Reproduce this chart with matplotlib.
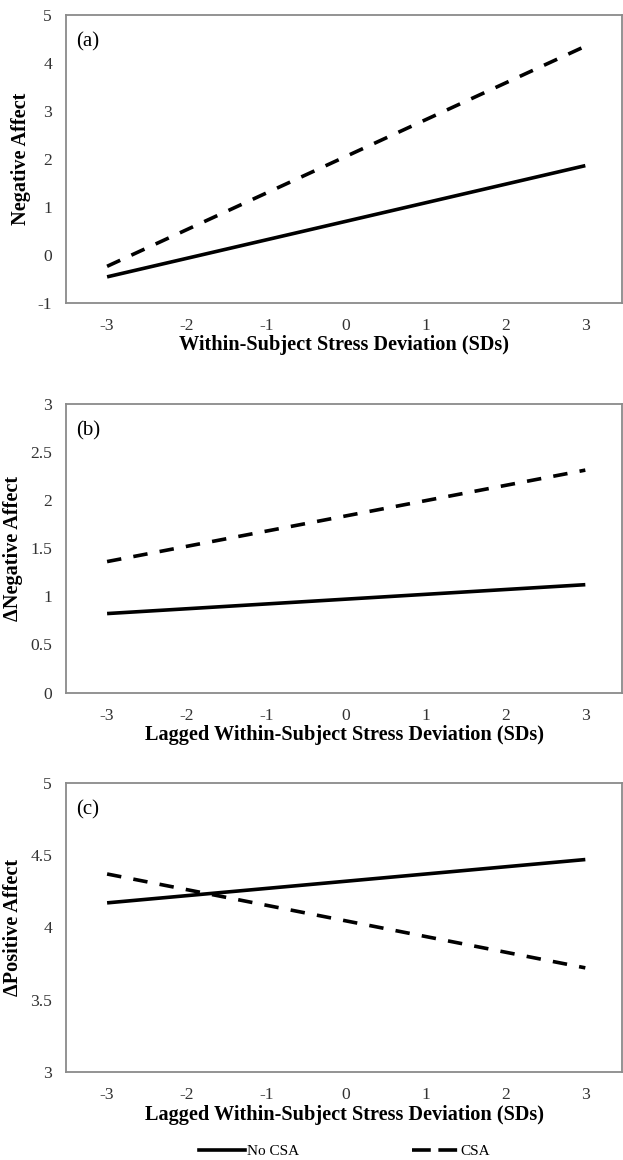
import matplotlib
matplotlib.use('Agg')
import matplotlib.pyplot as plt
from matplotlib.lines import Line2D

# stress deviation (SDs)
x = [-3, 3]

# panel (a) negative affect
na_no_csa = [-0.46, 1.86]
na_csa = [-0.24, 4.35]

# panel (b) change in negative affect
dna_no_csa = [0.82, 1.12]
dna_csa = [1.36, 2.31]

# panel (c) change in positive affect
dpa_no_csa = [4.17, 4.47]
dpa_csa = [4.37, 3.72]

x_ticks = [-3, -2, -1, 0, 1, 2, 3]
panel_letters = ['(a)', '(b)', '(c)']
y_labels = ['Negative Affect', '\u0394Negative Affect', '\u0394Positive Affect']
x_labels = ['Within-Subject Stress Deviation (SDs)',
            'Lagged Within-Subject Stress Deviation (SDs)',
            'Lagged Within-Subject Stress Deviation (SDs)']
y_ticks = [[-1, 0, 1, 2, 3, 4, 5],
           [0, 0.5, 1, 1.5, 2, 2.5, 3],
           [3, 3.5, 4, 4.5, 5]]
legend_names = ['No CSA', 'CSA']

plt.rcParams['font.family'] = ['Liberation Serif', 'DejaVu Serif']

fig = plt.figure(figsize=(6.23, 11.6), dpi=100)

# axes boxes [left, bottom, width, height] in figure fractions
boxes = [[0.106, 0.739, 0.893, 0.248],
         [0.106, 0.403, 0.893, 0.249],
         [0.106, 0.076, 0.893, 0.249]]

series = [(na_no_csa, na_csa), (dna_no_csa, dna_csa), (dpa_no_csa, dpa_csa)]
lw = 2.6
dash = (0, (4, 3.4))

for i in range(3):
    ax = fig.add_axes(boxes[i])
    solid, dashed = series[i]
    ax.plot(x, solid, color='black', lw=lw, solid_capstyle='butt')
    ax.plot(x, dashed, color='black', lw=lw, linestyle=dash, dash_capstyle='butt')

    ax.set_xlim(-3.515, 3.465)
    ax.set_ylim(y_ticks[i][0], y_ticks[i][-1])
    ax.set_xticks(x_ticks)
    ax.set_xticklabels([str(t) for t in x_ticks])
    ax.set_yticks(y_ticks[i])
    ax.set_yticklabels(['%g' % t for t in y_ticks[i]])
    ax.tick_params(length=0, labelsize=12.6, colors='#333333')
    ax.tick_params(axis='x', pad=11)
    ax.tick_params(axis='y', pad=10)

    for s in ax.spines.values():
        s.set_color('#8a8a8a')
        s.set_linewidth(1.3)

    ax.set_xlabel(x_labels[i], fontsize=14.6, fontweight='bold', labelpad=1)
    ax.set_ylabel(y_labels[i], fontsize=14.6, fontweight='bold', labelpad=5)
    ax.text(0.019, 0.94, panel_letters[i], transform=ax.transAxes,
            fontsize=15, va='top', ha='left')

# legend at the bottom
handles = [Line2D([0], [0], color='black', lw=lw),
           Line2D([0], [0], color='black', lw=lw, linestyle=(0, (5.2, 2.1)))]
fig.legend(handles, legend_names, loc='center', ncol=2, frameon=False,
           bbox_to_anchor=(0.553, 0.0075), fontsize=11, handlelength=3.0,
           handletextpad=0.15, columnspacing=7.4)

fig.savefig('out.png', dpi=100)
